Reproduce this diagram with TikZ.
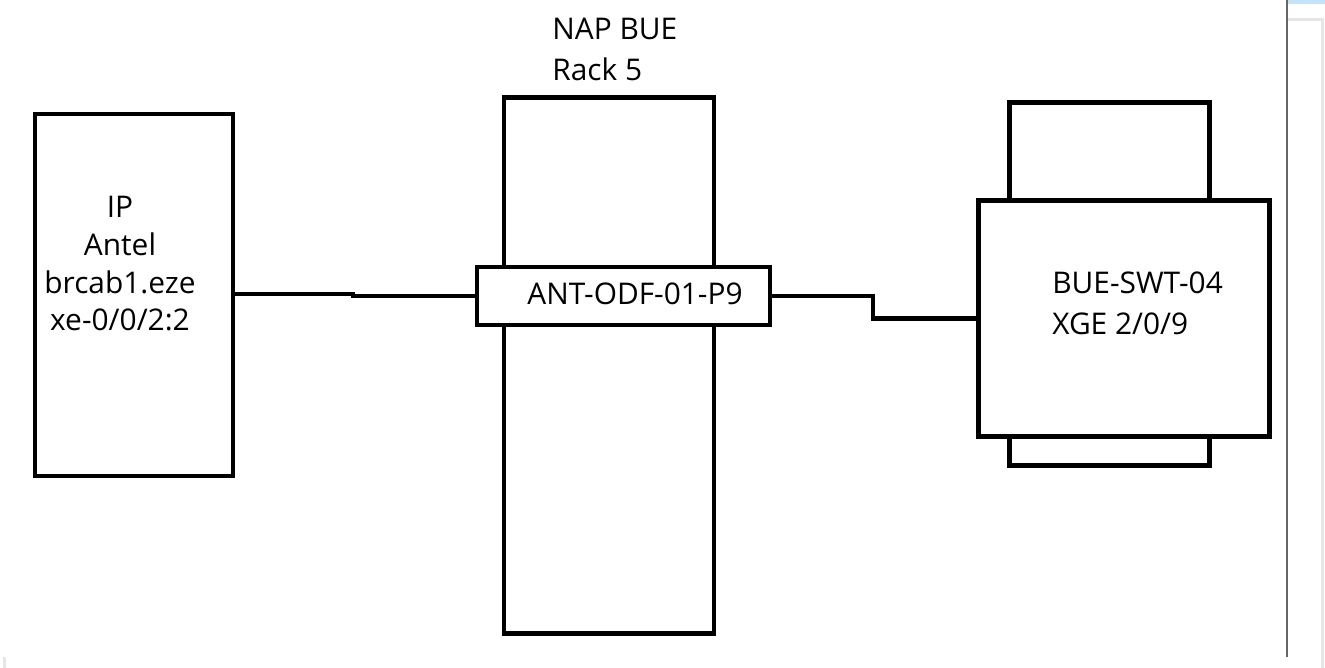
\documentclass[tikz,border=0pt]{standalone}
\usepackage{fontspec}
\setmainfont{Open Sans}
\usetikzlibrary{calc,positioning}
\definecolor{uigray}{HTML}{666666}
\definecolor{uiframe}{HTML}{E6E6E6}
\definecolor{uiblue}{HTML}{C5E3F6}

\begin{document}
\begin{tikzpicture}[x=0.02cm,y=-0.02cm,
  box/.style={draw,line width=2.8pt,inner sep=0pt,fill=white},
  wire/.style={line width=2.8pt},
  lbl/.style={inner sep=0pt,font=\fontsize{17}{#1}\selectfont},
  lbl/.default=23pt]
  \useasboundingbox (0,0) rectangle (1325,668);
  % window edge on the right
  \fill[uiblue] (1288,0) rectangle (1325,4);
  \draw[uiframe,line width=0.06cm] (1288,20) -- (1322,20) -- (1322,668);
  \draw[uigray,line width=0.035cm] (1287,0) -- (1287,657);
  \fill[uiframe] (3,657) rectangle (6,668);
  % router on the left
  \node[box,minimum width=3.96cm,minimum height=7.24cm] (ip) at (134,295) {};
  \node[lbl=21.5pt,align=center,anchor=north] (iptxt) at (120,196)
    {IP\\Antel\\brcab1.eze\\xe-0/0/2:2};
  % rack with the ODF
  \node[box,minimum width=4.2cm,minimum height=10.74cm] (rack) at (609,365.5) {};
  \node[box,minimum width=5.86cm,minimum height=1.16cm] (odf) at (623.5,296) {};
  \node[lbl,anchor=base] (odftxt) at (635,305) {ANT-ODF-01-P9};
  \node[lbl=23.2pt,align=left,anchor=north west] (naptxt) at (552,18)
    {NAP BUE\\Rack 5};
  % switch on the right
  \node[box,minimum width=4cm,minimum height=1.96cm] (swttop) at (1109.5,151.5) {};
  \node[box,minimum width=4cm,minimum height=0.58cm] (swtbot) at (1109.5,451) {};
  \node[box,minimum width=5.82cm,minimum height=4.72cm] (swt) at (1124,318.5) {};
  \node[lbl=23.8pt,align=left,anchor=north west] (swttxt) at (1052,271)
    {BUE-SWT-04\\XGE 2/0/9};
  % patch cords
  \coordinate (jog) at (353,294);
  \coordinate (bend) at (873,296);
  \draw[wire] (ip.east |- jog) -- (jog) |- (odf.west);
  \draw[wire] (odf.east) -- (bend) |- (swt.west);
\end{tikzpicture}
\end{document}
